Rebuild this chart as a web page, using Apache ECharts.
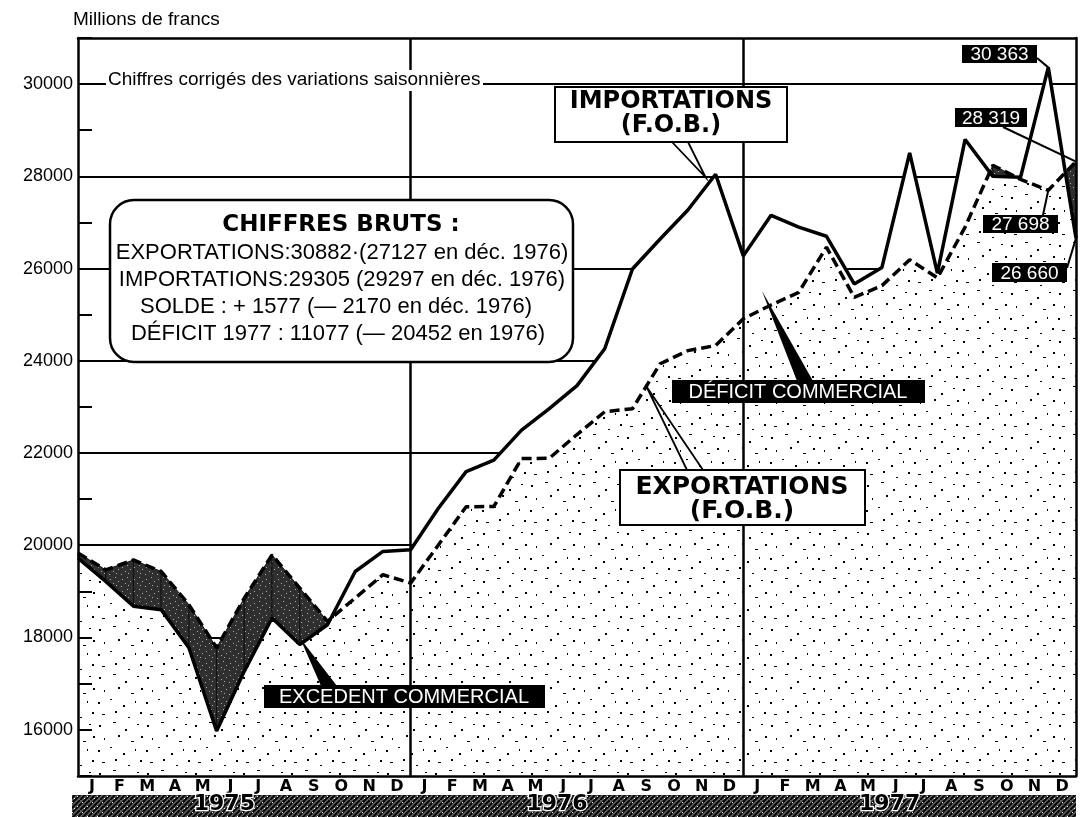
<!DOCTYPE html>
<html><head><meta charset="utf-8">
<script src="https://cdn.jsdelivr.net/npm/echarts@6/dist/echarts.min.js"></script>
<style>html,body{margin:0;padding:0;background:#fff;}#c{width:1081px;height:817px;}</style>
</head><body><div id="c"></div>
<script>
// ---------- DATA ----------
const monthLetters = ['J','F','M','A','M','J','J','A','S','O','N','D'];
const years = ['1975','1976','1977'];
const monthNames = ['janv.','févr.','mars','avr.','mai','juin','juil.','août','sept.','oct.','nov.','déc.'];
const yLabelValues = [16000,18000,20000,22000,24000,26000,28000,30000];
// monthly values (millions de francs), first point = déc. 1974
const importsVals = [
  19720, 19215, 18675, 18600, 17775, 15970, 17270, 18420, 17845, 18275, 19430, 19865, 19900,
  20800, 21595, 21845, 22495, 22960, 23460, 24260, 25990, 26640, 27270, 28045, 26275,
  27155, 26900, 26700, 25665, 26025, 28510, 25900, 28800, 28000, 27980, 30363, 26660
];
const exportsVals = [
  19830, 19465, 19680, 19430, 18710, 17775, 18855, 19790, 19070, 18350, 18855, 19360, 19180,
  20005, 20835, 20840, 21880, 21885, 22400, 22895, 22960, 23935, 24220, 24330, 24910,
  25210, 25485, 26465, 25375, 25630, 26190, 25800, 26900, 28240, 27935, 27698, 28319
];
const boxLines = [
  'EXPORTATIONS:30882·(27127 en déc. 1976)',
  'IMPORTATIONS:29305 (29297 en déc. 1976)',
  'SOLDE : + 1577 (— 2170 en déc. 1976)',
  'DÉFICIT 1977 : 11077 (— 20452 en 1976)'
];

// derived labels
const monthAxisLabels = [];
years.forEach(() => monthLetters.forEach(m => monthAxisLabels.push(m)));
const pointLabels = ['déc. 1974'];
years.forEach(y => monthNames.forEach(m => pointLabels.push(m + ' ' + y)));
const segIdx = importsVals.slice(0, -1).map((v, i) => i);

function fr(v){ const s = String(v); return s.slice(0, s.length-3) + ' ' + s.slice(-3); }

// ---------- TEXTURES ----------
function tile(size, bg, fg, rects){
  const c = document.createElement('canvas'); c.width = c.height = size;
  const g = c.getContext('2d'); g.fillStyle = bg; g.fillRect(0,0,size,size);
  g.fillStyle = fg; rects.forEach(r => g.fillRect(r[0],r[1],r[2],r[3]));
  return c;
}
const stipple = tile(48, '#ffffff', '#000000', [
  [3,5,2,2],[17,2,3,1],[29,9,2,2],[41,4,2,1],[8,18,1,2],[22,15,2,2],[35,21,3,1],[45,16,2,2],
  [2,30,2,2],[14,27,2,1],[27,33,2,2],[39,29,1,2],[6,42,3,1],[19,39,2,2],[32,45,2,1],[44,40,2,2]
]);
const darkTex = tile(12, '#2f2f2f', '#b0b0b0', [[2,3,1,1],[7,1,1,1],[5,7,1,1],[10,5,1,1],[1,10,1,1],[8,9,1,1]]);
const bandTex = (function(){
  const c = document.createElement('canvas'); c.width = c.height = 10;
  const g = c.getContext('2d'); g.fillStyle = '#5a5a5a'; g.fillRect(0,0,10,10);
  g.strokeStyle = '#000'; g.lineWidth = 1.8;
  g.beginPath(); g.moveTo(-2,12); g.lineTo(12,-2); g.moveTo(-2,7); g.lineTo(7,-2); g.moveTo(3,12); g.lineTo(12,3); g.stroke();
  g.fillStyle = '#fff'; g.fillRect(2,2,1,1); g.fillRect(7,6,1,1); g.fillRect(4,8,1,1);
  return c;
})();

const chart = echarts.init(document.getElementById('c'), null, {renderer:'canvas'});
const SANS = '"Liberation Sans", Arial, sans-serif';
const BOLD = '"DejaVu Sans", sans-serif';

const option = {
  animation: false,
  backgroundColor: '#fff',
  grid: {left: 78, right: 5, top: 38, bottom: 40},
  xAxis: [
    {type:'category', data: monthAxisLabels, boundaryGap: true, position:'bottom', z: 10,
     axisLine:{onZero:false, lineStyle:{color:'#000', width:2.5}},
     axisTick:{inside:true, length:12, interval:0, lineStyle:{color:'#000', width:2}},
     axisLabel:{interval:0, margin:3, fontFamily:BOLD, fontWeight:'bold', fontSize:16, color:'#000'},
     splitLine:{show:false}},
    {type:'category', data: pointLabels, boundaryGap:false, show:false},
    {type:'category', data: years, position:'bottom', offset:17, z: 20,
     axisLine:{show:false}, axisTick:{show:false}, splitLine:{show:false},
     axisLabel:{margin:1, fontFamily:BOLD, fontWeight:'bold', fontSize:22, color:'#000',
       textBorderColor:'#fff', textBorderWidth:2.5, padding:[0,40,0,0]}},
    {type:'category', data: years, position:'top', z: 10,
     axisLine:{onZero:false, lineStyle:{color:'#000', width:2.5}}, axisTick:{show:false}, axisLabel:{show:false}, splitLine:{show:false}}
  ],
  yAxis: [
    {type:'value', min:15000, max:31000, interval:1000, position:'left', z: 10,
     axisLine:{show:true, lineStyle:{color:'#000', width:2.5}},
     axisTick:{show:true, inside:true, length:14, lineStyle:{color:'#000', width:2}},
     axisLabel:{margin:5, fontFamily:SANS, fontSize:18, color:'#000',
       formatter: v => yLabelValues.indexOf(v) >= 0 ? String(v) : ''},
     splitLine:{show:false}},
    {type:'value', min:15000, max:31000, interval:1000, position:'left', z: 0,
     axisLine:{show:false}, axisTick:{show:false}, axisLabel:{show:false},
     splitLine:{show:true, lineStyle:{color:['rgba(0,0,0,0)','#000'], width:2}}},
    {type:'value', min:15000, max:31000, interval:1000, position:'right', z: 10,
     axisLine:{show:true, lineStyle:{color:'#000', width:2.5}}, axisTick:{show:false}, axisLabel:{show:false}, splitLine:{show:false}}
  ],
  series: [
    {name:'fondImports', type:'line', xAxisIndex:1, yAxisIndex:0, data: importsVals, symbol:'none', silent:true, z:1,
     lineStyle:{width:0}, areaStyle:{color:'#fff', opacity:1, origin:'start'}},
    {name:'fondExports', type:'line', xAxisIndex:1, yAxisIndex:0, data: exportsVals, symbol:'none', silent:true, z:2,
     lineStyle:{width:0}, areaStyle:{color:{image: stipple, repeat:'repeat'}, opacity:1, origin:'start'}},
    {name:'excedent', type:'custom', xAxisIndex:1, yAxisIndex:0, z:3, silent:true,
     data: segIdx.map(i => [i, exportsVals[i]]),
     renderItem: function(params, api){
       const i = api.value(0);
       const e0 = api.coord([i, exportsVals[i]]), e1 = api.coord([i+1, exportsVals[i+1]]);
       const m0 = api.coord([i, importsVals[i]]), m1 = api.coord([i+1, importsVals[i+1]]);
       const d0 = exportsVals[i] - importsVals[i], d1 = exportsVals[i+1] - importsVals[i+1];
       let pts = null;
       if (d0 >= 0 && d1 >= 0) { if (d0 === 0 && d1 === 0) return; pts = [e0, e1, m1, m0]; }
       else if (d0 <= 0 && d1 <= 0) return;
       else {
         const t = d0 / (d0 - d1);
         const c = [m0[0] + t*(m1[0]-m0[0]), m0[1] + t*(m1[1]-m0[1])];
         pts = d0 > 0 ? [e0, c, m0] : [c, e1, m1];
       }
       return {type:'polygon', shape:{points: pts}, style:{fill:{image: darkTex, repeat:'repeat'}, stroke:'#111', lineWidth:1}};
     }},
    {name:'Exportations', type:'line', xAxisIndex:1, yAxisIndex:0, data: exportsVals, symbol:'none', z:4,
     lineStyle:{color:'#000', width:3.5, type:[10,5]},
     markLine:{silent:true, symbol:'none', label:{show:false},
       lineStyle:{color:'#000', width:2.5, type:'solid'},
       data:[{xAxis:12},{xAxis:24}]}},
    {name:'Importations', type:'line', xAxisIndex:1, yAxisIndex:0, data: importsVals, symbol:'none', z:5,
     lineStyle:{color:'#000', width:3.5}}
  ]
};
chart.setOption(option);

function px(series, i){
  const arr = series === 'imp' ? importsVals : exportsVals;
  return chart.convertToPixel({xAxisIndex:1, yAxisIndex:0}, [i, arr[i]]);
}
function mid(a, b){ return [(a[0]+b[0])/2, (a[1]+b[1])/2]; }

const Z = 100;
function txt(x, y, text, font, fill, align){
  return {type:'text', z:Z+2, style:{x, y, text, font, fill: fill || '#000', align: align || 'center', verticalAlign:'middle'}};
}
function rect(x, y, w, h, fill, stroke, lw, r){
  return {type:'rect', z:Z, shape:{x, y, width:w, height:h, r: r || 0},
    style:{fill, stroke: stroke || null, lineWidth: lw || 0}};
}
function line(points, lw, z){
  return {type:'polyline', z: z || Z+1, shape:{points}, style:{stroke:'#000', lineWidth: lw || 1.5, fill:null}};
}
function wedge(points){
  return {type:'polygon', z:Z+1, shape:{points}, style:{fill:'#000'}};
}
function callout(bx, by, bw, bh, text, from, tip){
  return [rect(bx, by, bw, bh, '#000'), txt(bx + bw/2, by + bh/2 + 1, text, '19px ' + SANS, '#fff'), line([from, tip], 2)];
}

const tImpNov76 = px('imp', 23);
const tExpArrow = mid(px('exp', 20), px('exp', 21));

const graphics = [
  {type:'rect', z:0, shape:{x:72, y:795, width:1004, height:22}, style:{fill:{image: bandTex, repeat:'repeat'}}},
  txt(73, 20, 'Millions de francs', '19px ' + SANS, '#000', 'left'),
  rect(106, 70, 377, 21, '#fff'),
  txt(108, 80, 'Chiffres corrigés des variations saisonnières', '19px ' + SANS, '#000', 'left'),
  // CHIFFRES BRUTS box
  rect(110, 200, 463, 162, '#fff', '#000', 2.5, 24),
  txt(341, 225, 'CHIFFRES BRUTS :', 'bold 23px ' + BOLD),
  txt(342, 253, boxLines[0], '22px ' + SANS),
  txt(342, 280, boxLines[1], '22px ' + SANS),
  txt(336, 307, boxLines[2], '22px ' + SANS),
  txt(338, 334, boxLines[3], '22px ' + SANS),
  // IMPORTATIONS label
  rect(555, 87, 232, 55, '#fff', '#000', 2),
  txt(671, 102, 'IMPORTATIONS', 'bold 24px ' + BOLD),
  txt(671, 126, '(F.O.B.)', 'bold 24px ' + BOLD),
  line([[672, 142], [tImpNov76[0] - 10, tImpNov76[1] + 3], [688, 142]], 1.8),
  // EXPORTATIONS label
  rect(620, 470, 245, 55, '#fff', '#000', 2),
  txt(742, 487, 'EXPORTATIONS', 'bold 25px ' + BOLD),
  txt(742, 511, '(F.O.B.)', 'bold 25px ' + BOLD),
  line([[687, 470], tExpArrow, [703, 470]], 1.8),
  // DEFICIT
  wedge([[762, 291], [797, 381], [813, 381]]),
  rect(672, 380, 253, 23, '#000'),
  txt(798, 392, 'DÉFICIT COMMERCIAL', '20px ' + SANS, '#fff'),
  // EXCEDENT
  wedge([[300, 638], [321, 686], [337, 686]]),
  rect(264, 685, 281, 23, '#000'),
  txt(404, 697, 'EXCEDENT COMMERCIAL', '20px ' + SANS, '#fff')
].concat(
  callout(962, 45, 75, 18, fr(importsVals[35]), [1037, 58], px('imp', 35)),
  callout(955, 108, 72, 19, fr(exportsVals[36]), [1003, 127], px('exp', 36)),
  callout(983, 215, 75, 18, fr(exportsVals[35]), [1043, 215], px('exp', 35)),
  callout(992, 263, 75, 19, fr(importsVals[36]), [1067, 268], px('imp', 36))
);

chart.setOption({graphic: graphics});
</script>
</body></html>
